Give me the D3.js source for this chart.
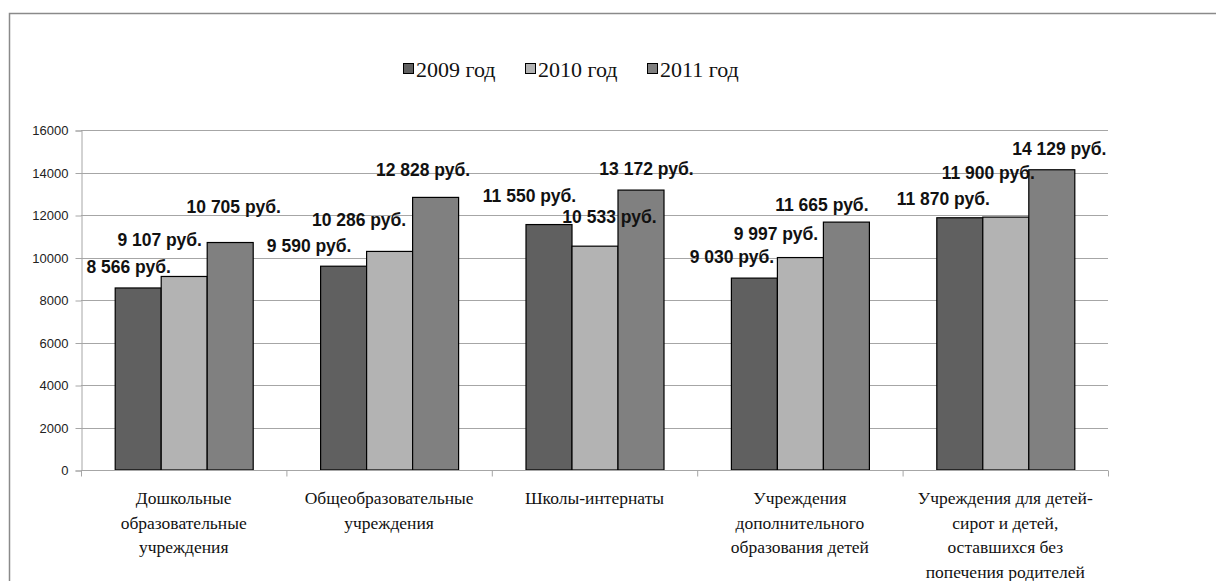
<!DOCTYPE html>
<html><head><meta charset="utf-8">
<script src="https://cdn.jsdelivr.net/npm/d3@7"></script>
<style>body{margin:0;background:#fff;} svg{display:block;} .serif{font-family:"Liberation Serif","Times New Roman","DejaVu Serif",serif;}</style>
</head><body>
<svg id="c" width="1216" height="581"></svg>
<script>
const categories = [
  ["Дошкольные","образовательные","учреждения"],
  ["Общеобразовательные","учреждения"],
  ["Школы-интернаты"],
  ["Учреждения","дополнительного","образования детей"],
  ["Учреждения для детей-","сирот и детей,","оставшихся без","попечения родителей"]
];
const seriesNames = ["2009 год","2010 год","2011 год"];
const values2009 = [8566, 9590, 11550, 9030, 11870];
const values2010 = [9107, 10286, 10533, 9997, 11900];
const values2011 = [10705, 12828, 13172, 11665, 14129];
const yTicks = [0,2000,4000,6000,8000,10000,12000,14000,16000];
const colors = ["#606060","#b3b3b3","#808080"];
// manual label offsets (layout, from the original's hand-placed labels)
const labelDx = [[-9,-34,-19,-22,-16],[-24,-30,15,-24,-17],[4,-12,6,-24,8]];
const labelDy = [[-15,-14,-23,-15,-13],[-30,-25,-23,-18,-38],[-30,-21,-15,-11,-15]];

const series = [values2009, values2010, values2011];
const svg = d3.select("#c");
const fmt = v => d3.format(",")(v).replace(/,/g, " ") + " руб.";

// outer frame
svg.append("rect").attr("x",9.5).attr("y",13.5).attr("width",1400).attr("height",800)
  .attr("fill","none").attr("stroke","#8a8a8a").attr("stroke-width",1.5);

const L = 81, R = 1108, T = 130, B = 470;
const x0 = d3.scaleBand().domain(d3.range(categories.length)).range([L,R]).paddingInner(0).paddingOuter(0);
const groupW = 138;
const x1 = d3.scaleBand().domain(d3.range(series.length)).range([0,groupW]).padding(0);
const y = d3.scaleLinear().domain([0,16000]).range([B,T]);

// gridlines
svg.append("g").selectAll("line").data(yTicks.filter(t=>t>0)).join("line")
  .attr("x1",L).attr("x2",R).attr("y1",d=>Math.round(y(d))+0.5).attr("y2",d=>Math.round(y(d))+0.5)
  .attr("stroke","#a6a6a6").attr("stroke-width",1);

// y axis
const ya = svg.append("g").attr("transform",`translate(${L+0.5},0.5)`)
  .call(d3.axisLeft(y).tickValues(yTicks).tickSize(6).tickPadding(7).tickFormat(d3.format("d")));
ya.select(".domain").attr("stroke","#a6a6a6");
ya.selectAll(".tick line").attr("stroke","#a6a6a6");
ya.selectAll("text").attr("font-family","'Liberation Sans', Arial, sans-serif").attr("font-size",13).attr("fill","#222");

// bars
series.forEach((vals,si)=>{
  svg.append("g").selectAll("rect").data(vals).join("rect")
    .attr("x",(d,i)=>x0(i)+(x0.bandwidth()-groupW)/2 + x1(si)+0.5)
    .attr("y",d=>y(d))
    .attr("width",x1.bandwidth())
    .attr("height",d=>B-y(d))
    .attr("fill",colors[si]).attr("stroke","#000").attr("stroke-width",1.2);
});

// x axis
const xa = svg.append("g").attr("transform",`translate(0,${B+0.5})`);
xa.append("line").attr("x1",L).attr("x2",R).attr("stroke","#a6a6a6");
xa.selectAll("line.t").data(d3.range(categories.length+1)).join("line").attr("class","t")
  .attr("x1",i=>i<categories.length?x0(i)+0.5:R+0.5).attr("x2",i=>i<categories.length?x0(i)+0.5:R+0.5)
  .attr("y1",0).attr("y2",6).attr("stroke","#a6a6a6");

// category labels
categories.forEach((lines,i)=>{
  const t = svg.append("text").attr("class","serif").attr("text-anchor","middle")
    .attr("font-size",17.5).attr("fill","#111");
  lines.forEach((ln,k)=>t.append("tspan").attr("x",x0(i)+x0.bandwidth()/2).attr("y",504+k*24.5).text(ln));
});

// data labels
series.forEach((vals,si)=>{
  svg.append("g").selectAll("text").data(vals).join("text")
    .attr("x",(d,i)=>x0(i)+(x0.bandwidth()-groupW)/2 + x1(si)+x1.bandwidth()/2 + labelDx[si][i])
    .attr("y",(d,i)=>y(d)+labelDy[si][i])
    .attr("text-anchor","middle")
    .attr("font-family","'Liberation Sans', Arial, sans-serif").attr("font-weight","bold")
    .attr("font-size",17.5).attr("fill","#111")
    .text(fmt);
});

// legend
const leg = svg.append("g");
const legX = [403, 525, 647];
seriesNames.forEach((n,i)=>{
  leg.append("rect").attr("x",legX[i]+0.5).attr("y",63.5).attr("width",10).attr("height",10)
    .attr("fill",colors[i]).attr("stroke","#000").attr("stroke-width",1);
  leg.append("text").attr("class","serif").attr("x",legX[i]+13).attr("y",77)
    .attr("font-size",22).attr("fill","#111").text(n);
});
</script>
</body></html>
